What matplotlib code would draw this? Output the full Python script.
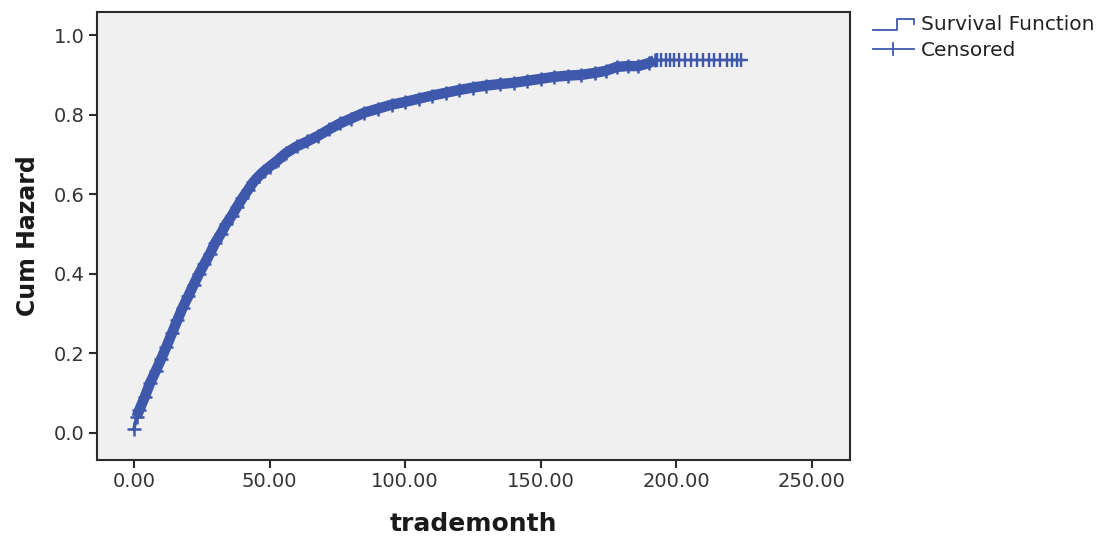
import matplotlib.pyplot as plt
from matplotlib.lines import Line2D
import numpy as np

plt.rcParams['font.family'] = ['DejaVu Sans']

# cumulative hazard (time in months, cum hazard)
months = [0, 1, 2, 4, 6, 8, 10, 12, 14, 16, 18, 20, 22, 24, 26, 28, 30, 32, 34, 36,
          38, 40, 42, 44, 46, 48, 50, 53, 56, 60, 64, 68, 72, 76, 80, 85, 90, 95,
          100, 105, 110, 115, 120, 125, 130, 135, 140, 145, 150, 155, 160, 165,
          170, 174, 178, 182, 186, 190, 192]
cum_hazard = [0.01, 0.04, 0.058, 0.09, 0.126, 0.155, 0.185, 0.217, 0.25, 0.283,
              0.315, 0.343, 0.372, 0.40, 0.425, 0.45, 0.478, 0.50, 0.525, 0.545,
              0.568, 0.59, 0.61, 0.63, 0.645, 0.658, 0.669, 0.685, 0.703, 0.72,
              0.733, 0.747, 0.763, 0.778, 0.79, 0.805, 0.815, 0.825, 0.832, 0.84,
              0.848, 0.855, 0.862, 0.868, 0.873, 0.877, 0.88, 0.885, 0.89, 0.895,
              0.898, 0.90, 0.905, 0.91, 0.92, 0.922, 0.922, 0.93, 0.937]
# censored cases in the tail
cens_months = [193, 194.5, 196, 197.5, 199, 201, 203, 205.5, 207.5, 210, 212, 214,
               216, 218.5, 220.5, 222.5, 224]
cens_hazard = [0.937] * len(cens_months)
last_month = 226

x_ticks = [0, 50, 100, 150, 200, 250]
y_ticks = [0.0, 0.2, 0.4, 0.6, 0.8, 1.0]

blue = '#3e58ac'
dark = '#2b2b2b'

fig = plt.figure(figsize=(11.06, 5.37), dpi=100)
ax = fig.add_axes([0.0877, 0.1434, 0.6808, 0.8343])
ax.set_facecolor('#f0f0f0')

# dense events + censor marks form a thick band
ax.plot(months[1:], cum_hazard[1:], color=blue, lw=7.5, solid_capstyle='butt')
ax.plot(months[:2], cum_hazard[:2], color=blue, lw=2.5)
ax.plot(months, cum_hazard, ls='none', marker='+', ms=10, mew=1.8, color=blue)
ax.plot([192, last_month], [0.937, 0.937], color=blue, lw=1.5)
ax.plot(cens_months, cens_hazard, ls='none', marker='+', ms=9.5, mew=1.7, color=blue)

ax.set_xlim(-13.6, 264)
ax.set_ylim(-0.068, 1.058)
ax.set_xticks(x_ticks)
ax.set_xticklabels(['%.2f' % v for v in x_ticks])
ax.set_yticks(y_ticks)
ax.set_yticklabels(['%.1f' % v for v in y_ticks])
ax.tick_params(direction='out', length=6, width=1.5, color=dark, labelsize=14,
               labelcolor='#333333', pad=3)
for s in ax.spines.values():
    s.set_color(dark)
    s.set_linewidth(1.5)

ax.set_xlabel('trademonth', fontsize=18, fontweight='bold', color='#1a1a1a', labelpad=15)
ax.set_ylabel('Cum Hazard', fontsize=17, fontweight='bold', color='#1a1a1a', labelpad=10)

# legend drawn by hand, SPSS style
def fx(px):
    return px / 1106.0

def fy(py):
    return 1 - py / 537.0

fig.add_artist(Line2D([fx(873), fx(897), fx(897), fx(914), fx(914)],
                      [fy(30), fy(30), fy(19), fy(19), fy(24)], color=blue, lw=1.3))
fig.add_artist(Line2D([fx(873), fx(914)], [fy(49), fy(49)], color=blue, lw=1.3))
fig.add_artist(Line2D([fx(893), fx(893)], [fy(43), fy(55)], color=blue, lw=1.3))
fig.text(fx(921), fy(25), 'Survival Function', fontsize=14.5, color='#222222', va='center')
fig.text(fx(921), fy(50), 'Censored', fontsize=14.5, color='#222222', va='center')

fig.savefig('out.png', dpi=100)
